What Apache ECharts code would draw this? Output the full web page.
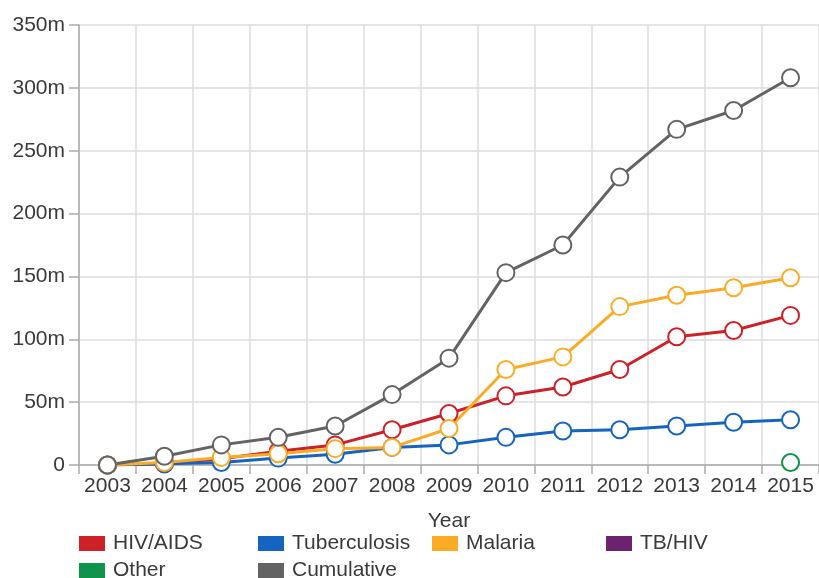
<!DOCTYPE html>
<html>
<head>
<meta charset="utf-8">
<script src="https://cdn.jsdelivr.net/npm/echarts@6/dist/echarts.min.js"></script>
<style>
  html, body { margin: 0; padding: 0; background: #fff; }
  #chart { width: 819px; height: 578px; }
</style>
</head>
<body>
<div id="chart"></div>
<script>
// values in millions
const years = ['2003', '2004', '2005', '2006', '2007', '2008', '2009', '2010', '2011', '2012', '2013', '2014', '2015'];
const hivAids = [0, 1, 5, 11, 16, 28, 41, 55, 62, 76, 102, 107, 119];
const tuberculosis = [0, 1, 2, 5.5, 8.5, 14, 16, 22, 27, 28, 31, 34, 36];
const malaria = [0, 2, 6, 9, 13, 14, 29, 76, 86, 126, 135, 141, 149];
const tbHiv = [null, null, null, null, null, null, null, null, null, null, null, null, null];
const other = [null, null, null, null, null, null, null, null, null, null, null, null, 2];
const cumulative = [0, 7, 16, 22, 31, 56, 85, 153, 175, 229, 267, 282, 308];

const names = ['HIV/AIDS', 'Tuberculosis', 'Malaria', 'TB/HIV', 'Other', 'Cumulative'];
const colors = ['#cc2127', '#1565c0', '#fbab26', '#6b2370', '#10934a', '#636363'];
const datasets = [hivAids, tuberculosis, malaria, tbHiv, other, cumulative];

const font = '"Liberation Sans", Arial, sans-serif';
const txt = '#3a3a3a';
const chart = echarts.init(document.getElementById('chart'), null, { renderer: 'canvas' });

// legend laid out as a fixed grid, one legend per item
const legendPos = [
  [79, 533], [258, 533], [432, 533], [606, 533],
  [79, 560], [258, 560]
];
const legends = names.map((n, i) => ({
  data: [n],
  left: legendPos[i][0],
  top: legendPos[i][1],
  orient: 'horizontal',
  icon: 'rect',
  itemWidth: 26,
  itemHeight: 15,
  itemGap: 8,
  padding: 0,
  itemStyle: { color: colors[i], borderWidth: 0 },
  textStyle: { fontSize: 21, color: txt, fontFamily: font, padding: [0, 0, 0, 3] }
}));

const series = names.map((n, i) => ({
  name: n,
  type: 'line',
  data: datasets[i],
  color: colors[i],
  symbol: 'circle',
  symbolSize: 17,
  showSymbol: true,
  connectNulls: false,
  lineStyle: { width: 3, color: colors[i] },
  itemStyle: { color: '#fff', borderColor: colors[i], borderWidth: 2 },
  emphasis: { disabled: true },
  animation: false
}));

chart.setOption({
  backgroundColor: '#fff',
  textStyle: { fontFamily: font },
  legend: legends,
  grid: { left: 79, right: -2, top: 25, bottom: 113, containLabel: false },
  xAxis: {
    type: 'category',
    data: years,
    boundaryGap: true,
    name: 'Year',
    nameLocation: 'middle',
    nameGap: 46,
    nameTextStyle: { fontSize: 21, color: txt, fontFamily: font },
    axisLine: { lineStyle: { color: '#aaa', width: 1.5 } },
    axisTick: { show: true, interval: 0, length: 9, lineStyle: { color: '#aaa', width: 1.5 } },
    axisLabel: { interval: 0, fontSize: 21, color: txt, margin: 11, fontFamily: font },
    splitLine: { show: true, interval: 0, lineStyle: { color: '#ddd', width: 1.5 } }
  },
  yAxis: {
    type: 'value',
    min: 0,
    max: 350,
    interval: 50,
    axisLine: { show: true, lineStyle: { color: '#aaa', width: 1.5 } },
    axisTick: { show: true, length: 10, lineStyle: { color: '#aaa', width: 1.5 } },
    axisLabel: {
      fontSize: 21, color: txt, margin: 14, fontFamily: font,
      formatter: v => v === 0 ? '0' : v + 'm'
    },
    splitLine: { show: true, lineStyle: { color: '#ddd', width: 1.5 } }
  },
  series: series
});
</script>
</body>
</html>
